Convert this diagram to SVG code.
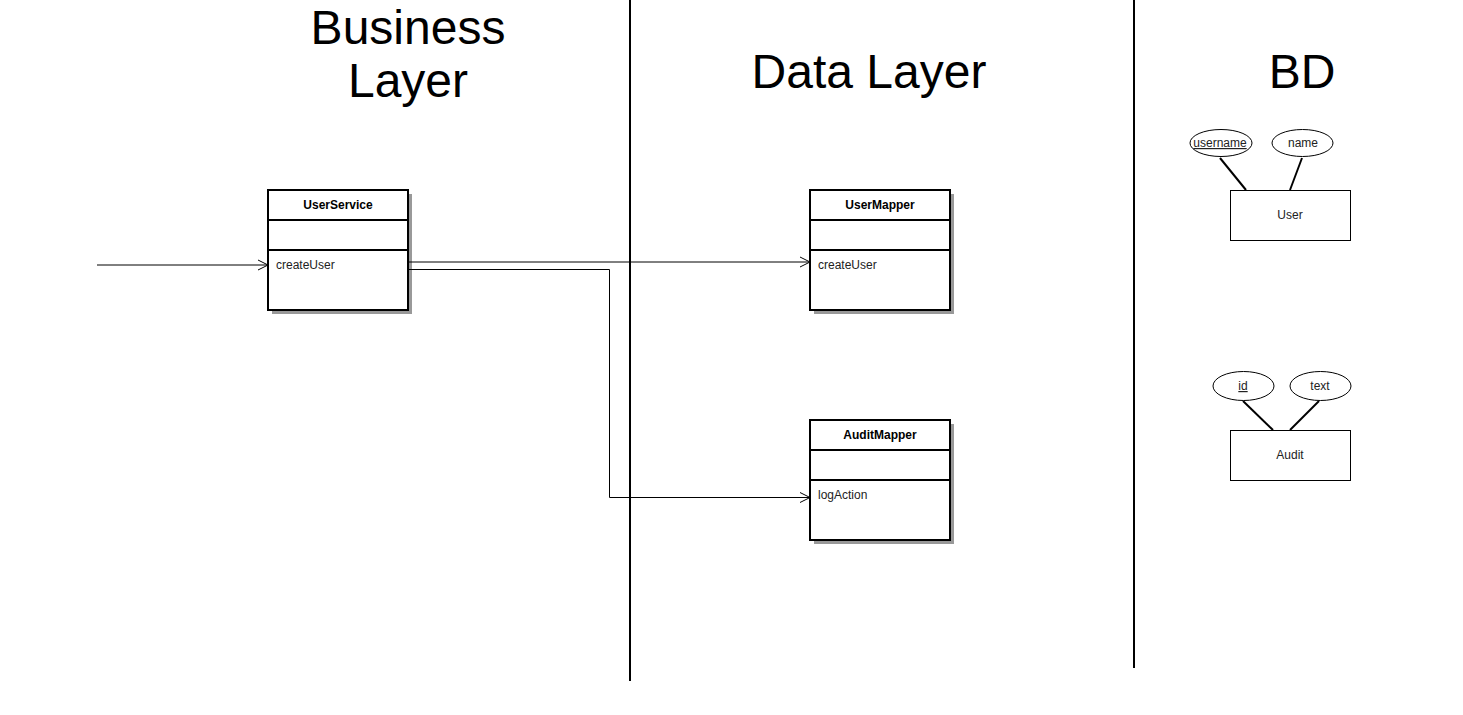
<svg xmlns="http://www.w3.org/2000/svg" width="1463" height="715" viewBox="0 0 1463 715">
<style>
.title{font-family:"Liberation Sans",Arial,sans-serif;font-size:48px;fill:#000;text-anchor:middle}
.cls{fill:#fff;stroke:#000;stroke-width:2}
.shadow{fill:#999;stroke:none}
.div{stroke:#000;stroke-width:2}
.cname{font-family:"Liberation Sans",Arial,sans-serif;font-size:12px;font-weight:bold;fill:#000;text-anchor:middle}
.meth{font-family:"Liberation Sans",Arial,sans-serif;font-size:12px;fill:#222}
.ent{fill:#fff;stroke:#000;stroke-width:1}
.attr{fill:#fff;stroke:#000;stroke-width:1}
.etxt{font-family:"Liberation Sans",Arial,sans-serif;font-size:12px;fill:#222;text-anchor:middle}
.link{stroke:#000;stroke-width:2}
.conn{fill:none;stroke:#000;stroke-width:1}
.sep{stroke:#000;stroke-width:2}
</style>
<defs>
<marker id="open" markerWidth="12" markerHeight="12" refX="11" refY="6" orient="auto" markerUnits="userSpaceOnUse">
<path d="M1,1 L11,6 L1,11" fill="none" stroke="#000" stroke-width="1"/>
</marker>
</defs>
<rect width="1463" height="715" fill="#fff"/>
<g id="titles">
<text class="title" x="408" y="44">Business</text>
<text class="title" x="408" y="97">Layer</text>
<text class="title" x="869" y="88">Data Layer</text>
<text class="title" x="1302" y="88">BD</text>
</g>
<g id="separators">
<line class="sep" x1="630" y1="0" x2="630" y2="681"/>
<line class="sep" x1="1134" y1="0" x2="1134" y2="668"/>
</g>
<g id="UserService">
<rect class="shadow" x="272" y="194" width="140" height="120"/>
<rect class="cls" x="268" y="190" width="140" height="120"/>
<line class="div" x1="268" y1="220" x2="408" y2="220"/>
<line class="div" x1="268" y1="250" x2="408" y2="250"/>
<text class="cname" x="338" y="209">UserService</text>
<text class="meth" x="276" y="269">createUser</text>
</g>
<g id="UserMapper">
<rect class="shadow" x="814" y="194" width="140" height="120"/>
<rect class="cls" x="810" y="190" width="140" height="120"/>
<line class="div" x1="810" y1="220" x2="950" y2="220"/>
<line class="div" x1="810" y1="250" x2="950" y2="250"/>
<text class="cname" x="880" y="209">UserMapper</text>
<text class="meth" x="818" y="269">createUser</text>
</g>
<g id="AuditMapper">
<rect class="shadow" x="814" y="424" width="140" height="120"/>
<rect class="cls" x="810" y="420" width="140" height="120"/>
<line class="div" x1="810" y1="450" x2="950" y2="450"/>
<line class="div" x1="810" y1="480" x2="950" y2="480"/>
<text class="cname" x="880" y="439">AuditMapper</text>
<text class="meth" x="818" y="499">logAction</text>
</g>
<g id="User">
<line class="link" x1="1220" y1="158" x2="1246" y2="190"/>
<line class="link" x1="1302" y1="158" x2="1290" y2="190"/>
<ellipse class="attr" cx="1221" cy="143" rx="31" ry="13.5"/>
<text class="etxt" x="1220" y="147" text-decoration="underline">username</text>
<ellipse class="attr" cx="1302.5" cy="143" rx="30.5" ry="13.5"/>
<text class="etxt" x="1303" y="147">name</text>
<rect class="ent" x="1230.5" y="190.5" width="120" height="50"/>
<text class="etxt" x="1290" y="219">User</text>
</g>
<g id="Audit">
<line class="link" x1="1243" y1="401" x2="1273" y2="430"/>
<line class="link" x1="1319" y1="401" x2="1290" y2="430"/>
<ellipse class="attr" cx="1243.5" cy="386" rx="30.5" ry="14.5"/>
<text class="etxt" x="1243" y="390" text-decoration="underline">id</text>
<ellipse class="attr" cx="1320.5" cy="386" rx="30.5" ry="14.5"/>
<text class="etxt" x="1320" y="390">text</text>
<rect class="ent" x="1230.5" y="430.5" width="120" height="50"/>
<text class="etxt" x="1290" y="459">Audit</text>
</g>
<g id="connectors">
<path class="conn" d="M97,265 L268,265" marker-end="url(#open)"/>
<path class="conn" d="M408,262 L810,262" marker-end="url(#open)"/>
<path class="conn" d="M408,269.5 L609.5,269.5 L609.5,497.5 L810,497.5" marker-end="url(#open)"/>
</g>
</svg>
